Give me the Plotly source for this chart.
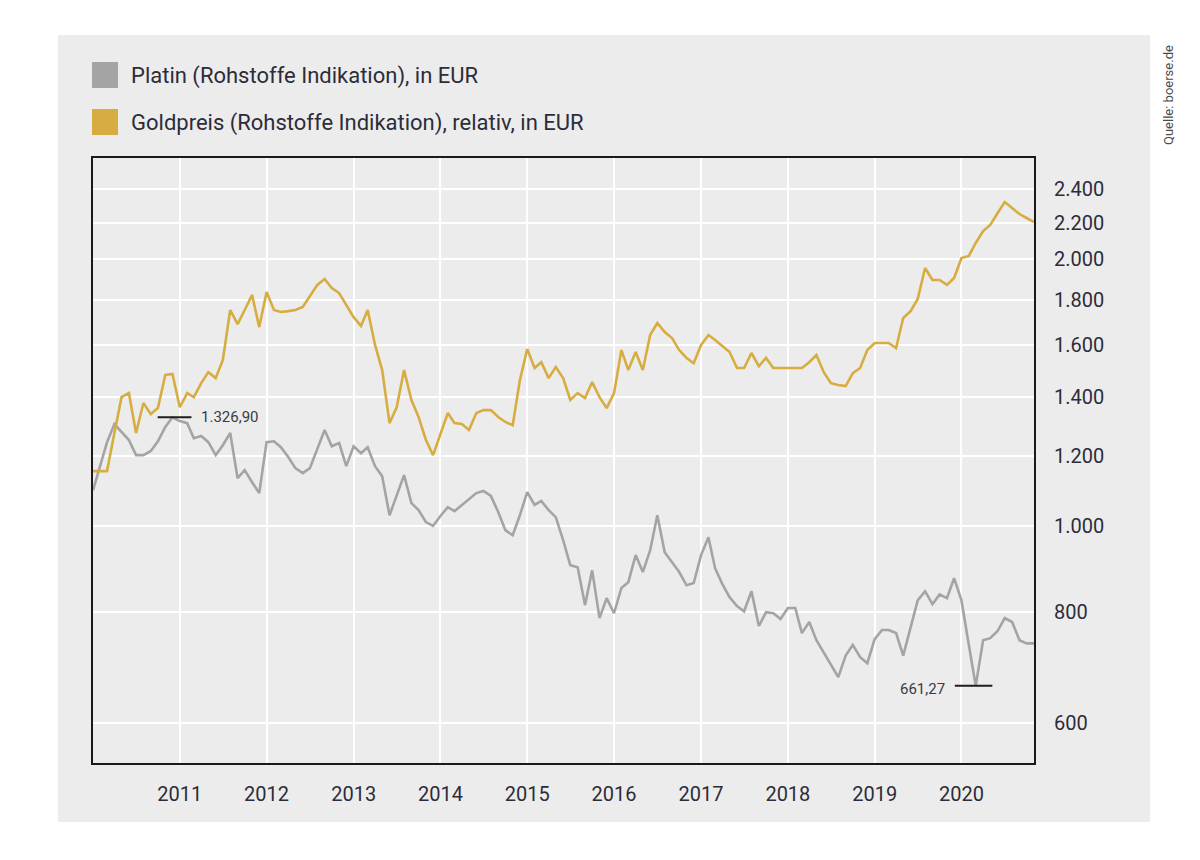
import plotly.graph_objects as go
import pandas as pd
import math

# ---------------- data (monthly, Jan 2010 .. Nov 2020) ----------------
start_month = "2010-01-01"
n_months = 131

platin_eur = [
    1098, 1169, 1244, 1304, 1277, 1251, 1203, 1203, 1216, 1247,
    1294, 1326.90, 1314, 1307, 1257, 1264, 1244, 1203, 1234, 1274,
    1133, 1157, 1121, 1090, 1244, 1247, 1228, 1197, 1163, 1148,
    1163, 1225, 1284, 1231, 1241, 1169, 1231, 1209, 1228, 1169,
    1139, 1029, 1084, 1142, 1062, 1043, 1011, 1001, 1027, 1051,
    1040, 1057, 1073, 1090, 1096, 1082, 1038, 990, 977, 1029,
    1093, 1057, 1068, 1043, 1024, 965, 904, 899, 815, 892,
    788, 830, 798, 852, 865, 928, 888, 940, 1029, 935,
    911, 888, 858, 863, 928, 972, 897, 860, 832, 813,
    802, 845, 772, 800, 798, 786, 809, 809, 758, 780,
    744, 721, 697, 676, 715, 735, 712, 701, 746, 764,
    764, 758, 715, 770, 825, 845, 817, 838, 830, 874,
    825, 735, 661.27, 744, 748, 762, 788, 780, 744, 738,
    738,
]

gold_rel_eur = [
    1154, 1154, 1154, 1274, 1398, 1413, 1274, 1377, 1338, 1359,
    1481, 1485, 1362, 1413, 1398, 1450, 1492, 1469, 1540, 1753,
    1690, 1753, 1823, 1677, 1837, 1753, 1744, 1748, 1753, 1767,
    1818, 1871, 1900, 1856, 1832, 1776, 1721, 1682, 1753, 1601,
    1500, 1307, 1362, 1500, 1388, 1328, 1251, 1203, 1274, 1342,
    1307, 1304, 1284, 1342, 1352, 1352, 1328, 1311, 1300, 1461,
    1584, 1508, 1531, 1469, 1512, 1469, 1388, 1413, 1395, 1454,
    1398, 1359, 1413, 1580, 1500, 1572, 1500, 1643, 1695, 1656,
    1630, 1580, 1548, 1527, 1601, 1643, 1622, 1597, 1572, 1508,
    1508, 1568, 1515, 1548, 1508, 1508, 1508, 1508, 1508, 1531,
    1560, 1492, 1450, 1443, 1439, 1488, 1508, 1580, 1609, 1609,
    1609, 1588, 1717, 1748, 1804, 1955, 1895, 1895, 1871, 1905,
    2006, 2017, 2086, 2152, 2186, 2255, 2320, 2284, 2249, 2226,
    2203,
]

year_ticks = ["2011", "2012", "2013", "2014", "2015", "2016", "2017", "2018", "2019", "2020"]
y_ticks = [600, 800, 1000, 1200, 1400, 1600, 1800, 2000, 2200, 2400]

series_names = ["Platin (Rohstoffe Indikation), in EUR",
                "Goldpreis (Rohstoffe Indikation), relativ, in EUR"]
source_text = "Quelle: boerse.de"

# ---------------- styling ----------------
C_PLAT = "#a4a4a4"
C_GOLD = "#d7ad42"
C_PANEL = "#ececec"
C_TEXT = "#2c2c3a"
FONT = "Roboto, 'Open Sans', sans-serif"

W, H = 1200, 860
L, R, T, B = 93, 1034, 158, 763   # plot area in pixels


def px(x):
    return (x - L) / (R - L)


def py(y):
    return (B - y) / (B - T)


def de_num(v, dec=0):
    s = f"{v:,.{dec}f}"
    return s.replace(",", "X").replace(".", ",").replace("X", ".")


dates = pd.date_range(start_month, periods=n_months, freq="MS")

fig = go.Figure()
fig.add_trace(go.Scatter(x=dates, y=platin_eur, mode="lines", name=series_names[0],
                         line=dict(color=C_PLAT, width=2.6), hoverinfo="x+y"))
fig.add_trace(go.Scatter(x=dates, y=gold_rel_eur, mode="lines", name=series_names[1],
                         line=dict(color=C_GOLD, width=2.6), hoverinfo="x+y"))

shapes = [
    dict(type="rect", xref="paper", yref="paper", x0=px(58), x1=px(1150), y0=py(822), y1=py(35),
         fillcolor=C_PANEL, line=dict(width=0), layer="below"),
    # legend squares
    dict(type="rect", xref="paper", yref="paper", x0=px(92), x1=px(118), y0=py(88), y1=py(62),
         fillcolor=C_PLAT, line=dict(width=0)),
    dict(type="rect", xref="paper", yref="paper", x0=px(92), x1=px(118), y0=py(135), y1=py(109),
         fillcolor=C_GOLD, line=dict(width=0)),
]

# max / min markers derived from the data
i_max = max(range(n_months), key=lambda i: platin_eur[i])
i_min = min(range(n_months), key=lambda i: platin_eur[i])
d_max, d_min = dates[i_max], dates[i_min]
shapes.append(dict(type="line", xref="x", yref="y",
                   x0=d_max - pd.Timedelta(days=62), x1=d_max + pd.Timedelta(days=80),
                   y0=platin_eur[i_max], y1=platin_eur[i_max],
                   line=dict(color="#1e1e1e", width=2)))
shapes.append(dict(type="line", xref="x", yref="y",
                   x0=d_min - pd.Timedelta(days=88), x1=d_min + pd.Timedelta(days=70),
                   y0=platin_eur[i_min], y1=platin_eur[i_min],
                   line=dict(color="#1e1e1e", width=2)))

annotations = [
    dict(text=series_names[0], xref="paper", yref="paper", x=px(129), y=py(76),
         xanchor="left", yanchor="middle", showarrow=False,
         font=dict(family=FONT, size=22, color=C_TEXT)),
    dict(text=series_names[1], xref="paper", yref="paper", x=px(129), y=py(123),
         xanchor="left", yanchor="middle", showarrow=False,
         font=dict(family=FONT, size=22, color=C_TEXT)),
    dict(text=source_text, xref="paper", yref="paper", x=px(1168), y=py(95),
         xanchor="center", yanchor="middle", textangle=-90, showarrow=False,
         font=dict(family=FONT, size=13, color="#4a4a4a")),
    dict(text=de_num(platin_eur[i_max], 2), xref="x", yref="y",
         x=d_max + pd.Timedelta(days=80), y=math.log10(platin_eur[i_max]),
         xanchor="left", yanchor="middle", xshift=8, showarrow=False,
         font=dict(family=FONT, size=15, color="#3a3a44")),
    dict(text=de_num(platin_eur[i_min], 2), xref="x", yref="y",
         x=d_min - pd.Timedelta(days=88), y=math.log10(platin_eur[i_min]),
         xanchor="right", yanchor="middle", xshift=-8, yshift=-3, showarrow=False,
         font=dict(family=FONT, size=15, color="#3a3a44")),
]

fig.update_layout(
    width=W, height=H,
    margin=dict(l=L, r=W - R, t=T, b=H - B, pad=0),
    paper_bgcolor="white", plot_bgcolor=C_PANEL,
    showlegend=False,
    separators=",.",
    shapes=shapes, annotations=annotations,
    font=dict(family=FONT, color=C_TEXT),
)

fig.update_xaxes(
    type="date",
    range=[dates[0], dates[-1]],
    tickvals=[pd.Timestamp(f"{y}-01-01") for y in year_ticks],
    ticktext=year_ticks,
    showgrid=True, gridcolor="white", gridwidth=2,
    showline=True, mirror=True, linecolor="#1a1a1a", linewidth=2,
    ticks="", ticklabelstandoff=12,
    tickfont=dict(family=FONT, size=20, color=C_TEXT),
    zeroline=False,
)
fig.update_yaxes(
    type="log",
    range=[math.log10(541), math.log10(2601)],
    side="right",
    tickvals=y_ticks,
    ticktext=[de_num(v) for v in y_ticks],
    showgrid=True, gridcolor="white", gridwidth=2,
    showline=True, mirror=True, linecolor="#1a1a1a", linewidth=2,
    ticks="", ticklabelstandoff=14,
    tickfont=dict(family=FONT, size=20, color=C_TEXT),
    zeroline=False,
)

fig.write_html("out.html")
